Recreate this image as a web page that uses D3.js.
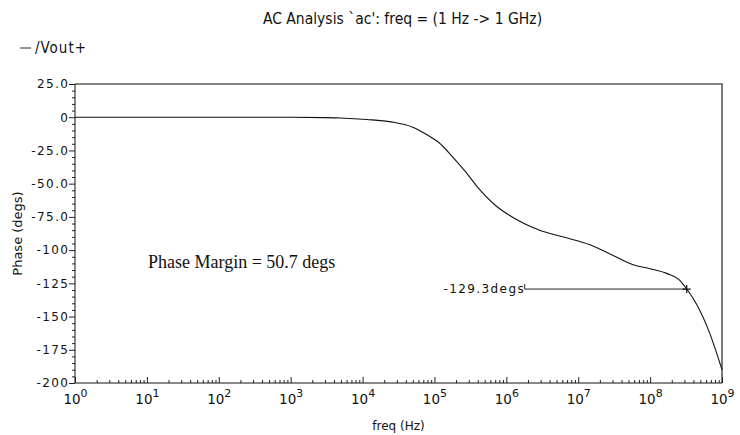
<!DOCTYPE html>
<html>
<head>
<meta charset="utf-8">
<script src="https://cdn.jsdelivr.net/npm/d3@7"></script>
<style>
  html, body { margin: 0; padding: 0; background: #fff; }
  svg { display: block; }
  .tick-lbl { font-family: "DejaVu Sans", sans-serif; font-size: 12px; letter-spacing: 1.4px; fill: #111; }
  .cond { font-family: "DejaVu Sans Condensed", "Liberation Sans Narrow", "DejaVu Sans", sans-serif; fill: #111; }
</style>
</head>
<body>
<svg id="chart" width="740" height="435"></svg>
<script>
// AC sweep of /Vout+ : frequency (Hz) and phase (degrees)
const freqHz = [1, 1e3, 3e3, 4.9e3, 1.14e4, 2.5e4, 5e4, 7.8e4, 1.15e5, 1.8e5, 2.7e5, 3.9e5, 7.3e5,
                1.24e6, 2.9e6, 6.1e6, 1.46e7, 3.05e7, 5.8e7, 1e8, 1.7e8, 2.5e8, 3.23e8,
                4.45e8, 6.8e8, 1e9];
const phaseDeg = [0, 0, -0.3, -0.6, -1.7, -3.5, -7.5, -13, -19, -30, -41, -52, -67,
                  -75.5, -85, -90, -96, -104, -111, -114, -117.5, -122, -129.3,
                  -141, -163, -190];

// Phase-margin crossing marker
const markerFreq = 3.23e8;
const markerPhase = -129.3;
const markerLabel = "-129.3degs";
const markerLineStartFreq = 1.8e6;
const marginText = "Phase Margin = 50.7 degs";

// Axis ticks
const yTicks = [25, 0, -25, -50, -75, -100, -125, -150, -175, -200];
const yTickLabels = ["25.0", "0", "-25.0", "-50.0", "-75.0", "-100", "-125", "-150", "-175", "-200"];
const xDecades = [0, 1, 2, 3, 4, 5, 6, 7, 8, 9];

const titleText = "AC Analysis `ac': freq = (1 Hz -> 1 GHz)";
const legendText = "/Vout+";
const xTitle = "freq (Hz)";
const yTitle = "Phase (degs)";

const svg = d3.select("#chart");
const L = 75, R = 722, T = 84, B = 383;

const x = d3.scaleLog().domain([1, 1e9]).range([L, R]);
const y = d3.scaleLinear().domain([-200, 25]).range([B, T]);

// title and legend
svg.append("text").attr("class", "cond")
  .attr("x", (L + R) / 2 + 4).attr("y", 24)
  .attr("text-anchor", "middle").attr("font-size", 15.5)
  .text(titleText);

svg.append("line").attr("x1", 20).attr("x2", 31).attr("y1", 48).attr("y2", 48)
  .attr("stroke", "#222").attr("stroke-width", 1);
svg.append("text").attr("class", "cond")
  .attr("x", 35).attr("y", 53).attr("font-size", 15).attr("letter-spacing", 1)
  .text(legendText);

// frame: top and right edges
svg.append("path")
  .attr("d", `M${L},${T}H${R}V${B}`)
  .attr("fill", "none").attr("stroke", "#5a5a5a").attr("stroke-width", 1.6);

// y axis: minor ticks every 5 degrees, majors every 25
const yMinor = d3.range(-200, 25.001, 5).filter(v => v % 25 !== 0);
svg.append("g").attr("transform", `translate(${L},0)`)
  .call(d3.axisLeft(y).tickValues(yMinor).tickSize(3).tickFormat(""))
  .call(g => g.select(".domain").remove())
  .selectAll("line").attr("stroke", "#222");

const yAxis = svg.append("g").attr("transform", `translate(${L},0)`)
  .call(d3.axisLeft(y).tickValues(yTicks).tickSize(6).tickPadding(1)
    .tickFormat((d, i) => yTickLabels[i]));
yAxis.select(".domain").attr("stroke", "#111").attr("d", `M0,${B}V${T}`);
yAxis.selectAll("line").attr("stroke", "#222");
yAxis.selectAll("text").attr("class", "tick-lbl").attr("font-size", null)
  .attr("font-family", null).attr("dx", "1.4px");

// x axis: minor ticks 2..9 in each decade, majors at decades, all pointing inward
const xMinor = [];
xDecades.slice(0, -1).forEach(p => { for (let k = 2; k <= 9; k++) xMinor.push(k * Math.pow(10, p)); });
svg.append("g").attr("transform", `translate(0,${B})`)
  .call(d3.axisBottom(x).tickValues(xMinor).tickSize(-3).tickFormat(""))
  .call(g => g.select(".domain").remove())
  .selectAll("line").attr("stroke", "#222");

const xAxis = svg.append("g").attr("transform", `translate(0,${B})`)
  .call(d3.axisBottom(x).tickValues(xDecades.map(p => Math.pow(10, p))).tickSize(-6)
    .tickPadding(21).tickFormat(""));
xAxis.select(".domain").attr("stroke", "#111").attr("d", `M${L},0H${R}`);
xAxis.selectAll("line").attr("stroke", "#222");
xAxis.selectAll(".tick text").each(function (d, i) {
  const t = d3.select(this)
    .attr("font-family", "DejaVu Sans, sans-serif").attr("font-size", 13.5)
    .attr("fill", "#111").attr("dy", null).attr("text-anchor", "middle");
  t.append("tspan").text("10");
  t.append("tspan").attr("font-size", 11).attr("dy", -7).text(String(xDecades[i]));
});

// axis titles
svg.append("text").attr("font-family", "DejaVu Sans, sans-serif").attr("font-size", 12)
  .attr("fill", "#111").attr("text-anchor", "middle")
  .attr("x", (L + R) / 2).attr("y", 430).text(xTitle);
svg.append("text").attr("font-family", "DejaVu Sans, sans-serif").attr("font-size", 13)
  .attr("fill", "#111").attr("text-anchor", "middle")
  .attr("transform", `translate(22,${(T + B) / 2}) rotate(-90)`).text(yTitle);

// phase curve
const pts = freqHz.map((f, i) => [f, phaseDeg[i]]);
svg.append("path").datum(pts)
  .attr("fill", "none").attr("stroke", "#111").attr("stroke-width", 1.1)
  .attr("d", d3.line().x(d => x(d[0])).y(d => y(d[1])).curve(d3.curveMonotoneX));

// phase margin annotation
svg.append("text").attr("font-family", "Liberation Serif, serif").attr("font-size", 18)
  .attr("fill", "#111").attr("x", 148).attr("y", 268).text(marginText);

const mx = x(markerFreq), my = y(markerPhase), lx = x(markerLineStartFreq);
svg.append("path")
  .attr("d", `M${lx},${my - 5}V${my}H${mx}`)
  .attr("fill", "none").attr("stroke", "#222").attr("stroke-width", 1);
svg.append("path")
  .attr("d", `M${mx - 4},${my}H${mx + 4}M${mx},${my - 4}V${my + 4}`)
  .attr("stroke", "#111").attr("stroke-width", 1.2);
svg.append("text").attr("class", "tick-lbl")
  .attr("x", lx - 1).attr("y", my + 4).attr("text-anchor", "end").attr("dx", "1.4px")
  .text(markerLabel);
</script>
</body>
</html>
